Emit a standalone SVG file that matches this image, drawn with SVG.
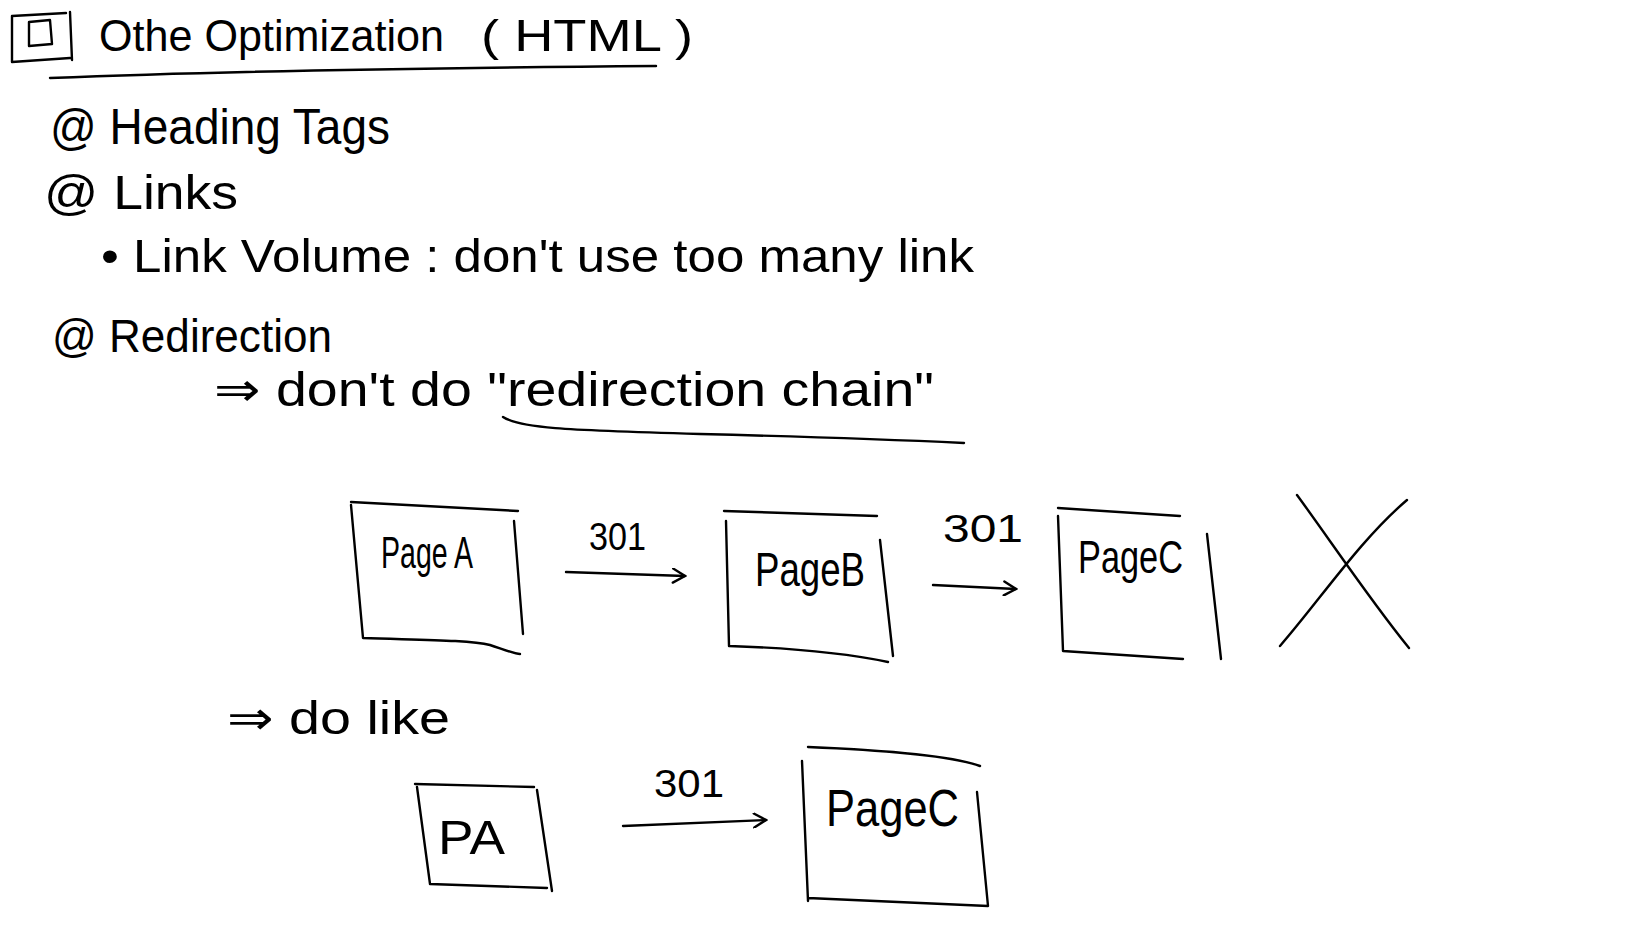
<svg xmlns="http://www.w3.org/2000/svg" width="1634" height="950" viewBox="0 0 1634 950">
<style>
.ln{fill:none;stroke:#000;stroke-width:2.4;stroke-linecap:round;stroke-linejoin:round}
.t{font-family:"Liberation Sans","DejaVu Sans",sans-serif;fill:#000;font-weight:normal}
</style>
<defs>
<marker id="chev" viewBox="0 0 16 16" refX="14" refY="8" markerWidth="16" markerHeight="16" markerUnits="userSpaceOnUse" orient="auto">
<path d="M2,1 L14,8 L2,15" fill="none" stroke="#000" stroke-width="2.4" stroke-linecap="round"/>
</marker>
</defs>
<rect width="1634" height="950" fill="#fff"/>

<g id="title">
<path class="ln" d="M12,16 L12,62 M12,62 L70,58 M12,16 L66,13 M70,12 L72,60"/>
<path class="ln" d="M29,22 L29,46 L52,44 L50,20 L29,22"/>
<text class="t" x="99" y="51" font-size="44" textLength="345" lengthAdjust="spacingAndGlyphs">Othe Optimization</text>
<text class="t" x="481" y="51" font-size="44" textLength="212" lengthAdjust="spacingAndGlyphs">( HTML )</text>
<path class="ln" d="M50,78 C200,72 400,68 656,66"/>
</g>

<g id="notes">
<text class="t" x="50" y="144" font-size="50" textLength="340" lengthAdjust="spacingAndGlyphs">@ Heading Tags</text>
<text class="t" x="44" y="209" font-size="48" textLength="194" lengthAdjust="spacingAndGlyphs">@ Links</text>
<text class="t" x="101" y="272" font-size="46" textLength="873" lengthAdjust="spacingAndGlyphs">• Link Volume : don't use too many link</text>
<text class="t" x="52" y="352" font-size="46" textLength="280" lengthAdjust="spacingAndGlyphs">@ Redirection</text>
<text class="t" x="214" y="406" font-size="48" textLength="720" lengthAdjust="spacingAndGlyphs">⇒ don't do "redirection chain"</text>
<path class="ln" d="M503,417 C520,428 560,430 700,434 C820,437 900,440 964,443"/>
<text class="t" x="227" y="734" font-size="46" textLength="223" lengthAdjust="spacingAndGlyphs">⇒ do like</text>
</g>

<g id="pageA">
<path class="ln" d="M351,502 L518,511 M351,505 L363,638 M363,638 C420,640 470,640 490,645 C505,650 515,654 520,654 M514,521 L523,634"/>
<text class="t" x="381" y="568" font-size="44" textLength="92" lengthAdjust="spacingAndGlyphs">Page A</text>
</g>

<g id="pageB">
<path class="ln" d="M724,511 L877,516 M726,521 L729,646 M729,646 C790,648 840,652 888,662 M880,540 L893,656"/>
<text class="t" x="755" y="586" font-size="48" textLength="110" lengthAdjust="spacingAndGlyphs">PageB</text>
</g>

<g id="pageC1">
<path class="ln" d="M1058,508 L1180,516 M1058,516 L1063,651 M1063,651 L1183,659 M1207,534 L1221,659"/>
<text class="t" x="1078" y="573" font-size="46" textLength="105" lengthAdjust="spacingAndGlyphs">PageC</text>
</g>

<g id="cross">
<path class="ln" d="M1297,495 C1330,540 1370,600 1409,648 M1407,500 C1360,540 1320,600 1280,646"/>
</g>

<g id="pa">
<path class="ln" d="M415,784 L534,787 M417,787 L430,884 M430,884 L547,888 M537,790 L552,891"/>
<text class="t" x="438" y="854" font-size="48" textLength="67" lengthAdjust="spacingAndGlyphs">PA</text>
</g>

<g id="pageC2">
<path class="ln" d="M808,747 C880,750 950,755 980,766 M802,761 L808,901 M808,898 L988,906 M977,792 L988,906"/>
<text class="t" x="826" y="826" font-size="52" textLength="133" lengthAdjust="spacingAndGlyphs">PageC</text>
</g>

<g id="connectors">
<path class="ln" d="M566,572 L685,576" marker-end="url(#chev)"/>
<path class="ln" d="M933,585 L1016,589" marker-end="url(#chev)"/>
<path class="ln" d="M623,826 L766,820" marker-end="url(#chev)"/>
<text class="t" x="589" y="550" font-size="38" textLength="57" lengthAdjust="spacingAndGlyphs">301</text>
<text class="t" x="943" y="542" font-size="38" textLength="80" lengthAdjust="spacingAndGlyphs">301</text>
<text class="t" x="654" y="797" font-size="38" textLength="70" lengthAdjust="spacingAndGlyphs">301</text>
</g>
</svg>
